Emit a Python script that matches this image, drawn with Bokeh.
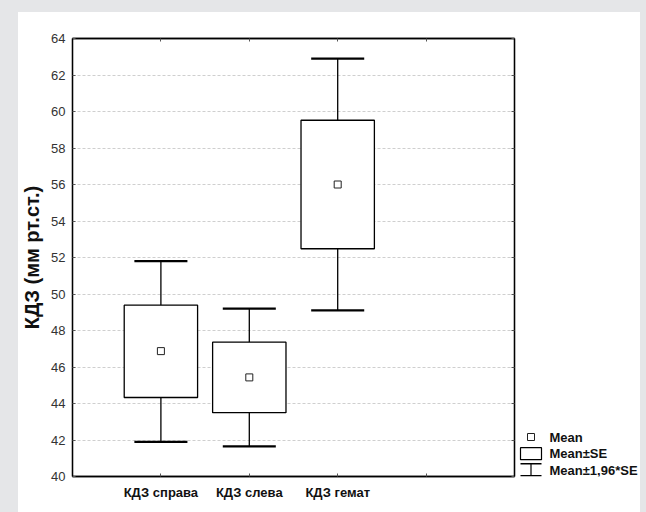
from bokeh.plotting import figure
from bokeh.layouts import row
from bokeh.models import Range1d, FixedTicker, LinearAxis
from bokeh.core.properties import value
from bokeh.embed import file_html
from bokeh.resources import INLINE

# ---- data ----
categories = ["КДЗ справа", "КДЗ слева", "КДЗ гемат"]
means = [46.87, 45.43, 56.0]
se_low = [44.33, 43.50, 52.48]
se_high = [49.39, 47.36, 59.52]
ci_low = [41.90, 41.65, 49.10]
ci_high = [51.80, 49.20, 62.90]
y_ticks = [40, 42, 44, 46, 48, 50, 52, 54, 56, 58, 60, 62, 64]
legend_labels = ["Mean", "Mean±SE", "Mean±1,96*SE"]

xs = [i + 1 for i in range(len(categories))]
box_half = 0.415
cap_half = 0.3

FONT = "Liberation Sans"
B_TOP, B_BOTTOM = 26, 36

p = figure(width=500, height=500, output_backend="svg", toolbar_location=None,
           x_range=Range1d(0, 5), y_range=Range1d(40, 64),
           min_border_left=51, min_border_right=4, min_border_top=B_TOP, min_border_bottom=B_BOTTOM)
p.background_fill_color = "white"
p.border_fill_color = "white"
p.outline_line_color = "black"
p.outline_line_width = 1.3

# axes
p.xaxis.ticker = FixedTicker(ticks=[1, 2, 3, 4])
p.xaxis.major_label_overrides = {1: categories[0], 2: categories[1], 3: categories[2], 4: ""}
p.xaxis.major_label_text_font = FONT
p.xaxis.major_label_text_font_style = "bold"
p.xaxis.major_label_text_font_size = "13px"
p.xaxis.major_label_text_color = "#111111"
p.xaxis.major_label_standoff = 8
p.yaxis.ticker = FixedTicker(ticks=y_ticks)
p.yaxis.major_label_text_font = FONT
p.yaxis.major_label_text_font_size = "13px"
p.yaxis.major_label_text_color = "#333333"
p.yaxis.major_label_standoff = 7
p.yaxis.axis_label = "КДЗ (мм рт.ст.)"
p.yaxis.axis_label_text_font = FONT
p.yaxis.axis_label_text_font_style = "bold"
p.yaxis.axis_label_text_font_size = "20px"
p.yaxis.axis_label_text_color = "#111111"
p.yaxis.axis_label_standoff = 5
for ax in (p.xaxis, p.yaxis):
    ax.major_tick_in = 3
    ax.major_tick_out = 0
    ax.minor_tick_line_color = None
    ax.major_tick_line_color = "#555555"
    ax.axis_line_color = "black"
    ax.axis_line_width = 1.3

top_ax = LinearAxis(ticker=FixedTicker(ticks=[1, 2, 3, 4]),
                    major_label_overrides={1: "", 2: "", 3: "", 4: ""})
right_ax = LinearAxis(ticker=FixedTicker(ticks=y_ticks),
                      major_label_overrides={t: "" for t in y_ticks})
for ax in (top_ax, right_ax):
    ax.major_tick_in = 3
    ax.major_tick_out = 0
    ax.minor_tick_line_color = None
    ax.major_tick_line_color = "#555555"
    ax.axis_line_color = "black"
    ax.axis_line_width = 1.3
    ax.major_label_standoff = 0
p.add_layout(top_ax, "above")
p.add_layout(right_ax, "right")

p.xgrid.grid_line_color = None
p.ygrid.grid_line_color = "#cfcfcf"
p.ygrid.grid_line_dash = "3 2"
p.ygrid.grid_line_width = 1

# whiskers
p.segment(x0=xs, y0=se_high, x1=xs, y1=ci_high, line_color="black", line_width=1.3)
p.segment(x0=xs, y0=ci_low, x1=xs, y1=se_low, line_color="black", line_width=1.3)
p.segment(x0=[x - cap_half for x in xs], y0=ci_high, x1=[x + cap_half for x in xs], y1=ci_high,
          line_color="black", line_width=2.2)
p.segment(x0=[x - cap_half for x in xs], y0=ci_low, x1=[x + cap_half for x in xs], y1=ci_low,
          line_color="black", line_width=2.2)
# boxes
p.quad(left=[x - box_half for x in xs], right=[x + box_half for x in xs],
       bottom=se_low, top=se_high, fill_color="white", line_color="black", line_width=1.3)
# means
p.scatter(x=xs, y=means, marker="square", size=7, fill_color="white",
          line_color="#222222", line_width=1)

# ---- legend panel (a pixel-scaled companion figure, frame aligned with p's frame) ----
LW, LH = 122, 500
FH = LH - B_TOP - B_BOTTOM
q = figure(width=LW, height=LH, output_backend="svg", toolbar_location=None,
           x_range=Range1d(0, LW), y_range=Range1d(0, FH),
           x_axis_type=None, y_axis_type=None,
           min_border_left=0, min_border_right=0, min_border_top=B_TOP, min_border_bottom=B_BOTTOM)
q.grid.grid_line_color = None
q.outline_line_color = None
q.background_fill_color = "white"
q.border_fill_color = "white"

row_y = [39.5, 22.8, 6.5]       # legend row centres (px above the frame bottom)
icon_l, icon_r, icon_c = 2, 23, 12.5
text_x = 31

q.scatter(x=[icon_c], y=[row_y[0]], marker="square", size=7, fill_color="white",
          line_color="#222222", line_width=1)
q.quad(left=[icon_l], right=[icon_r], bottom=[row_y[1] - 6], top=[row_y[1] + 6],
       fill_color="white", line_color="black", line_width=1.2)
q.segment(x0=[icon_l, icon_l, icon_c], y0=[row_y[2] + 6.3, row_y[2] - 5.7, row_y[2] - 5.7],
          x1=[icon_r, icon_r, icon_c], y1=[row_y[2] + 6.3, row_y[2] - 5.7, row_y[2] + 6.3],
          line_color="black", line_width=[1.5, 1.5, 1.2])
q.text(x=[text_x] * 3, y=row_y, text=legend_labels, text_font=value(FONT),
       text_font_style="bold", text_font_size="13px", text_baseline="middle",
       text_color="#111111")

layout = row(p, q, styles={"background-color": "white"})
html = file_html(layout, INLINE)
html = html.replace("</head>",
                    "<style>html,body{background:#e5e6e8;overflow:hidden;}"
                    "body{margin:12px 0 0 18px;}</style></head>", 1)
open("out.html", "w").write(html)
